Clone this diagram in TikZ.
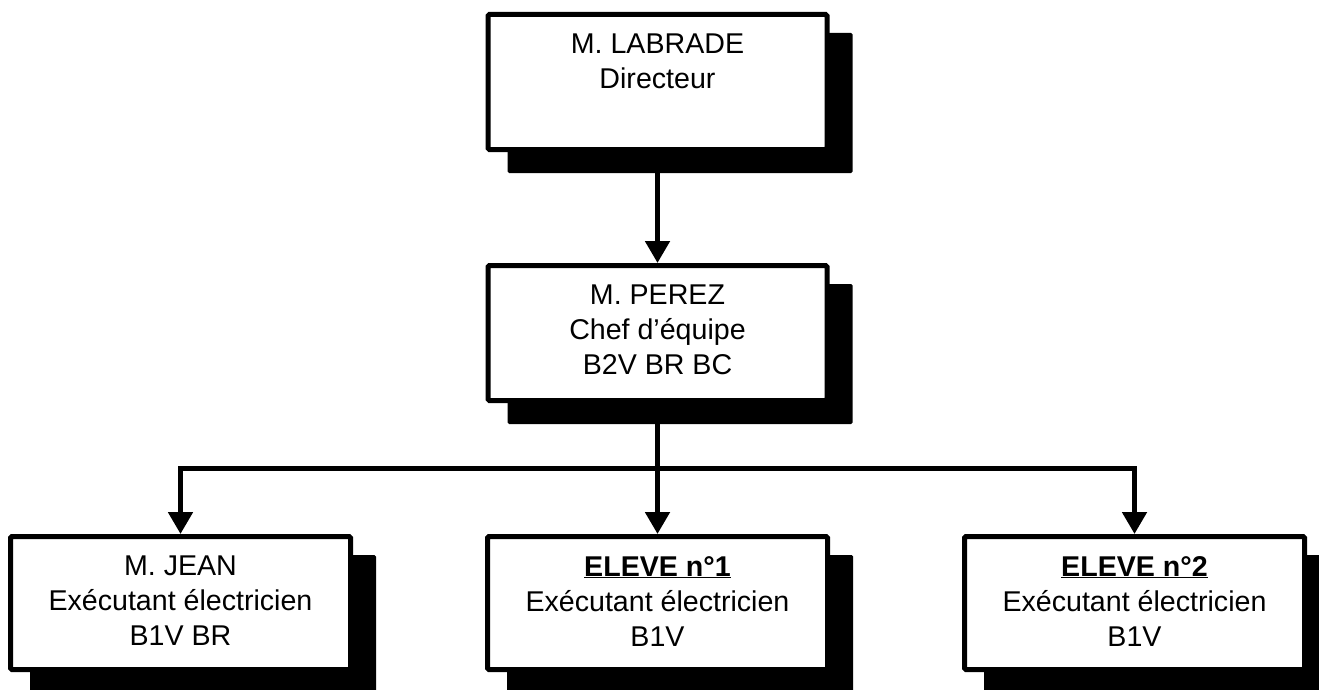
\documentclass[tikz,border=0pt]{standalone}
\usepackage{fontspec}
\setmainfont{Liberation Sans}
\usetikzlibrary{arrows.meta,backgrounds}
\begin{document}
\begin{tikzpicture}[x=1pt,y=-1pt,
  box/.style={draw, line width=5pt, fill=white, rounded corners=1.5pt, minimum width=339pt, minimum height=135pt, inner sep=0pt},
  lowbox/.style={box, minimum width=340pt, minimum height=133pt},
  shade/.style={fill=black, rounded corners=1.5pt},
  txt/.style={align=center, anchor=north, inner sep=0pt, font=\fontsize{28.6pt}{35pt}\selectfont},
  conn/.style={line width=5pt},
  tip/.style={-{Triangle[length=22pt,width=24pt]}}
]
\useasboundingbox (0,0) rectangle (1319,690);
\clip (0,0) rectangle (1319,690);
\node[box] (top) at (657.5,82) {};
\node[box] (mid) at (657.5,333) {};
\node[lowbox] (jean) at (180.5,603) {};
\node[lowbox] (e1) at (657.5,603) {};
\node[lowbox] (e2) at (1134.5,603) {};
\begin{scope}[on background layer]
  \foreach \b in {top,mid,jean,e1,e2}
    \fill[shade] ([shift={(22,21)}]\b.north west) rectangle ([shift={(23,21)}]\b.south east);
\end{scope}
\node[txt] (ttop) at ([shift={(0,22)}]top.north) {M. LABRADE\\Directeur};
\node[txt] (tmid) at ([shift={(0,22)}]mid.north) {M. PEREZ\\Chef d’équipe\\B2V BR BC};
\node[txt] (tjean) at ([shift={(0,22)}]jean.north) {M. JEAN\\Exécutant électricien\\B1V BR};
\node[txt] (te1) at ([shift={(0,22)}]e1.north) {\underline{\textbf{ELEVE n°1}}\\Exécutant électricien\\B1V};
\node[txt] (te2) at ([shift={(0,22)}]e2.north) {\underline{\textbf{ELEVE n°2}}\\Exécutant électricien\\B1V};
\coordinate (bus) at (657.5,468);
\draw[conn,tip] (top.south) -- (mid.north);
\draw[conn] (mid.south) -- (bus);
\draw[conn,tip] (bus) -| (jean.north);
\draw[conn,tip] (bus) -- (e1.north);
\draw[conn,tip] (bus) -| (e2.north);
\end{tikzpicture}
\end{document}
